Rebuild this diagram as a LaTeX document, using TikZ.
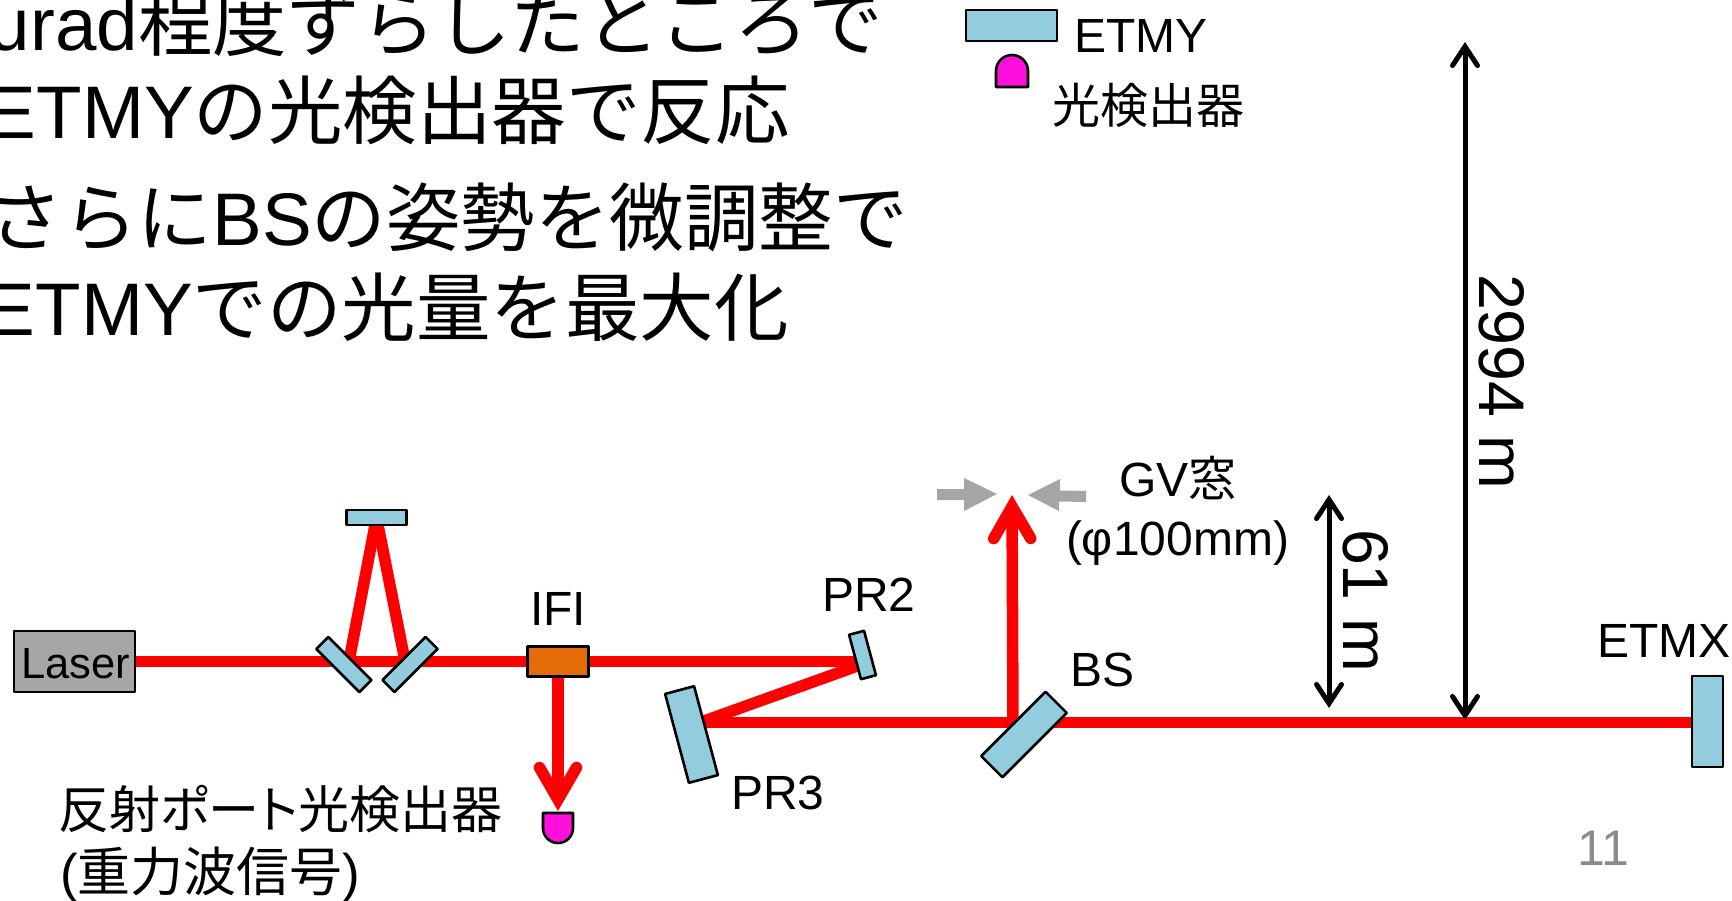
\documentclass[tikz,border=0pt]{standalone}
\usepackage{fontspec}
\usetikzlibrary{arrows.meta,backgrounds}
\setmainfont{Liberation Sans}
\newfontfamily\jp{Noto Sans CJK JP}
\newfontfamily\jpp[RawFeature=+palt]{Noto Sans CJK JP}
\definecolor{mirrorc}{HTML}{93CDDD}
\definecolor{ific}{HTML}{E36C09}
\definecolor{laserc}{HTML}{A6A6A6}
\definecolor{pdc}{HTML}{FF0FDC}
\definecolor{pagec}{HTML}{8B8B8B}
\newcommand{\fsz}[1]{\fontsize{#1}{#1}\selectfont}
\tikzset{
  optic/.style={draw=black,line width=2.6pt,line join=round,inner sep=0pt,outer sep=0pt},
  mirror/.style={optic,fill=mirrorc,rectangle},
  beam/.style={draw=red,line width=11.5pt},
  beamarrow/.style={beam,-{Straight Barb[length=32pt,width=37pt,line width=11.5pt,line cap=round,line join=miter]}},
  dimarrow/.style={draw=black,line width=5pt,{Straight Barb[length=19pt,width=25pt,line width=5pt,line cap=round,line join=miter]}-{Straight Barb[length=19pt,width=25pt,line width=5pt,line cap=round,line join=miter]}},
  txt/.style={inner sep=0pt,outer sep=0pt,anchor=base west,text=black},
  lab/.style={txt,font=\fsz{48}},
  big/.style={txt,font=\fsz{74.5}},
  dimtxt/.style={txt,font=\fsz{64.5},rotate=-90},
  pd/.style={draw=black,line width=2.6pt,fill=pdc,line join=round},
  gv/.style={fill=laserc,draw=none}
}
\begin{document}
\begin{tikzpicture}[x=1pt,y=-1pt]
\useasboundingbox (0,0) rectangle (1732,900);
\clip (0,0) rectangle (1732,900);
% heading
\node[big] (h1) at (-11,50) {urad{\jp 程度ずらしたところで}};
\node[big] (h2) at (-13,138) {ETMY{\jp の光検出器で反応}};
\node[big] (h3) at (-11,245) {\jp さらに{\rmfamily BS}の姿勢を微調整で};
\node[big] (h4) at (-14,335) {ETMY{\jp での光量を最大化}};
% optics
\node[optic,fill=laserc,rectangle,minimum width=121pt,minimum height=61pt] (laser) at (74.5,661.5) {};
\node[txt,font=\fsz{43.5}] (lasertxt) at (21,678) {Laser};
\node[mirror,minimum width=61pt,minimum height=17pt,rotate=-45] (mL) at (343.8,664.5) {};
\node[mirror,minimum width=61pt,minimum height=17pt,rotate=45] (mR) at (410,664.5) {};
\node[mirror,minimum width=60pt,minimum height=15pt] (mT) at (376.5,517.5) {};
\node[optic,fill=ific,rectangle,minimum width=61pt,minimum height=30pt] (ifi) at (558,661.5) {};
\node[mirror,minimum width=46pt,minimum height=15.5pt,rotate=-75] (pr2) at (862.5,655) {};
\node[mirror,minimum width=92pt,minimum height=30pt,rotate=-75] (pr3) at (691.5,734.5) {};
\node[mirror,minimum width=91pt,minimum height=30pt,rotate=45] (bs) at (1024,734.5) {};
\node[mirror,minimum width=31pt,minimum height=91pt] (etmx) at (1707.5,721.5) {};
\node[mirror,minimum width=91pt,minimum height=31pt] (etmy) at (1011.5,25.5) {};
% photodetectors
\draw[pd] (543,813) -- (573,813) -- (573,828) arc[start angle=0,end angle=-180,radius=15pt] -- cycle;
\draw[pd] (996,87) -- (1028,87) -- (1028,71) arc[start angle=0,end angle=180,radius=16pt] -- cycle;
% free beam points
\coordinate (legL) at (349,661);
\coordinate (legR) at (405,661);
\coordinate (pr2a) at (860,661.5);
\coordinate (pr2b) at (860,665);
\coordinate (pr3a) at (700,722.5);
\coordinate (bsup) at (1013,722.5);
\coordinate (gvtip) at (1012,495);
\coordinate (refltip) at (558,811);
\coordinate (a1t) at (1329,495);
\coordinate (a1b) at (1329,708);
\coordinate (a2t) at (1465,42);
\coordinate (a2b) at (1465,720);
\coordinate (etmxhit) at (1695,722.5);
\begin{scope}[on background layer]
\draw[beam] (laser.east) -- (ifi.west);
\draw[beam] (legL) -- (mT.center);
\draw[beam] (legR) -- (mT.center);
\draw[beam] (ifi.east) -- (pr2a);
\draw[beam] (pr2b) -- (pr3a);
\draw[beam] (pr3a) -- (etmxhit);
\draw[beamarrow] (bsup) -- (gvtip);
\draw[beamarrow] (ifi.south) -- (refltip);
\end{scope}
% grey pointers
\fill[gv] (937,489) -- (964,489) -- (964,478) -- (997,494) -- (964,511) -- (964,500) -- (937,500) -- cycle;
\fill[gv] (1086,491) -- (1060,490.5) -- (1060,479) -- (1028,495) -- (1059,511) -- (1059,501.5) -- (1086,502) -- cycle;
% dimension arrows
\draw[dimarrow] (a1t) -- (a1b);
\draw[dimarrow] (a2t) -- (a2b);
% labels
\node[lab] (lIFI) at (530,625) {IFI};
\node[lab] (lPR2) at (822,611) {PR2};
\node[lab] (lPR3) at (731,809) {PR3};
\node[lab] (lBS) at (1070,686) {BS};
\node[lab] (lX) at (1597,657) {ETMX};
\node[lab] (lY) at (1074,52) {ETMY};
\node[lab] (lYpd) at (1052,123) {\jp 光検出器};
\node[lab] (lGV) at (1119,496) {GV{\jp 窓}};
\node[lab] (lGV2) at (1066,555) {(φ100mm)};
\node[txt,font=\fsz{51}] (lR1) at (58,828) {\jpp 反射ポート光検出器};
\node[txt,font=\fsz{53}] (lR2) at (60,891) {({\jp 重力波信号})};
\node[dimtxt] (d61) at (1343,529) {61 m};
\node[dimtxt] (d2994) at (1479,274) {2994 m};
\node[txt,font=\fsz{50},text=pagec] (pg) at (1577,865) {11};
\end{tikzpicture}
\end{document}
